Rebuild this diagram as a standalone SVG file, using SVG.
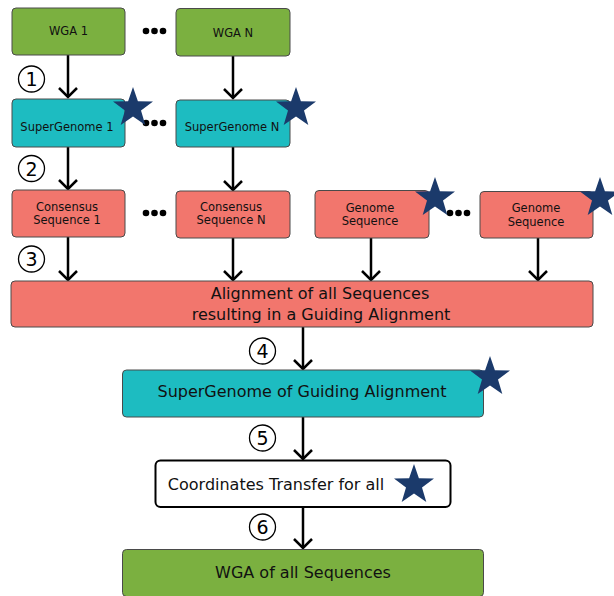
<svg xmlns="http://www.w3.org/2000/svg" width="614" height="596" viewBox="0 0 614 596">
<defs>
<style>
.box{stroke:#4a4a4a;stroke-width:1}
.g{fill:#7bb040}
.t{fill:#1dbcc1}
.r{fill:#f2766d}
.w{fill:#ffffff;stroke:#000;stroke-width:2}
.s{font-family:"DejaVu Sans","Noto Sans",sans-serif;font-size:11.5px;fill:#111;text-anchor:middle}
.m{font-family:"DejaVu Sans","Noto Sans",sans-serif;font-size:16px;fill:#111;text-anchor:middle}
.n{font-family:"DejaVu Sans","Noto Sans",sans-serif;font-size:19px;fill:#000;text-anchor:middle}
.nc{fill:none;stroke:#000;stroke-width:1.3}
.star{fill:#1b3a6b}
.conn line{stroke:#000;stroke-width:2.5}
.conn path{fill:none;stroke:#000;stroke-width:2.5}
.dot{fill:#000}
</style>
<path id="st" d="M0,-21 L4.9,-6.8 L20,-6.5 L8,2.6 L12.3,17 L0,8.5 L-12.3,17 L-8,2.6 L-20,-6.5 L-4.9,-6.8 Z"/>
</defs>
<rect width="614" height="596" fill="#fff"/>

<g class="conn">
<line x1="68" y1="55" x2="68" y2="97"/><path d="M59,88 L68,97 L77,88"/>
<line x1="233" y1="56" x2="233" y2="98"/><path d="M224,89 L233,98 L242,89"/>
<line x1="68" y1="147" x2="68" y2="189"/><path d="M59,180 L68,189 L77,180"/>
<line x1="233" y1="147" x2="233" y2="190"/><path d="M224,181 L233,190 L242,181"/>
<line x1="68" y1="237" x2="68" y2="280"/><path d="M59,271 L68,280 L77,271"/>
<line x1="233" y1="238" x2="233" y2="280"/><path d="M224,271 L233,280 L242,271"/>
<line x1="371" y1="238" x2="371" y2="280"/><path d="M362,271 L371,280 L380,271"/>
<line x1="538" y1="238" x2="538" y2="280"/><path d="M529,271 L538,280 L547,271"/>
<line x1="303" y1="327" x2="303" y2="369"/><path d="M294,360 L303,369 L312,360"/>
<line x1="303" y1="417" x2="303" y2="459"/><path d="M294,450 L303,459 L312,450"/>
<line x1="303" y1="507" x2="303" y2="548"/><path d="M294,539 L303,548 L312,539"/>
</g>

<g id="dots">
<circle class="dot" cx="146" cy="31" r="3.3"/><circle class="dot" cx="154.5" cy="31" r="3.3"/><circle class="dot" cx="163" cy="31" r="3.3"/>
<circle class="dot" cx="146" cy="123" r="3.3"/><circle class="dot" cx="154.5" cy="123" r="3.3"/><circle class="dot" cx="163" cy="123" r="3.3"/>
<circle class="dot" cx="146" cy="213" r="3.3"/><circle class="dot" cx="154.5" cy="213" r="3.3"/><circle class="dot" cx="163" cy="213" r="3.3"/>
<circle class="dot" cx="450" cy="213" r="3.3"/><circle class="dot" cx="458.5" cy="213" r="3.3"/><circle class="dot" cx="467" cy="213" r="3.3"/>
</g>

<g id="wga1"><rect class="box g" x="12" y="8" width="113" height="47" rx="4"/><text class="s" x="68.5" y="35">WGA 1</text></g>
<g id="wgaN"><rect class="box g" x="176" y="8.5" width="114" height="47.5" rx="4"/><text class="s" x="233" y="37">WGA N</text></g>

<g id="sg1"><rect class="box t" x="12" y="99" width="113" height="48" rx="4"/><text class="s" x="67" y="131">SuperGenome 1</text>
<use href="#st" class="star" x="133" y="108"/></g>
<g id="sgN"><rect class="box t" x="176" y="100" width="114" height="47" rx="4"/><text class="s" x="232" y="131">SuperGenome N</text>
<use href="#st" class="star" x="296" y="108"/></g>

<g id="cs1"><rect class="box r" x="12" y="190" width="113" height="47" rx="4"/><text class="s" x="67" y="211">Consensus</text><text class="s" x="67" y="224">Sequence 1</text></g>
<g id="csN"><rect class="box r" x="176" y="191" width="114" height="47" rx="4"/><text class="s" x="231" y="211">Consensus</text><text class="s" x="231" y="224">Sequence N</text></g>

<g id="gs1"><rect class="box r" x="315" y="190.5" width="114" height="47.5" rx="4"/><text class="s" x="370" y="212">Genome</text><text class="s" x="370" y="225">Sequence</text>
<use href="#st" class="star" x="435" y="198"/></g>
<g id="gsN"><rect class="box r" x="480" y="191.5" width="113" height="46.5" rx="4"/><text class="s" x="536" y="212">Genome</text><text class="s" x="536" y="226">Sequence</text>
<use href="#st" class="star" x="600" y="198"/></g>

<g id="align"><rect class="box r" x="11" y="281" width="582" height="46" rx="4"/>
<text class="m" x="320" y="299">Alignment of all Sequences</text>
<text class="m" x="321" y="320">resulting in a Guiding Alignment</text></g>

<g id="sgGuide"><rect class="box t" x="122.5" y="370" width="361" height="47" rx="4"/>
<text class="m" x="302" y="397">SuperGenome of Guiding Alignment</text>
<use href="#st" class="star" x="490" y="377"/></g>

<g id="coord"><rect class="w" x="155.5" y="460.5" width="295" height="46.5" rx="5"/>
<text class="m" x="276" y="490">Coordinates Transfer for all</text>
<use href="#st" class="star" x="414" y="485"/></g>

<g id="wgaAll"><rect class="box g" x="122.5" y="549.5" width="361" height="47" rx="4"/>
<text class="m" x="303" y="578">WGA of all Sequences</text></g>

<g id="steps">
<g><circle class="nc" cx="31.5" cy="79" r="13"/><text class="n" x="31.5" y="86">1</text></g>
<g><circle class="nc" cx="31.5" cy="168.5" r="13"/><text class="n" x="31.5" y="175.5">2</text></g>
<g><circle class="nc" cx="31.5" cy="259" r="13"/><text class="n" x="31.5" y="266">3</text></g>
<g><circle class="nc" cx="262.5" cy="351" r="13"/><text class="n" x="262.5" y="358">4</text></g>
<g><circle class="nc" cx="262.5" cy="438" r="13"/><text class="n" x="262.5" y="445">5</text></g>
<g><circle class="nc" cx="262.5" cy="527" r="13"/><text class="n" x="262.5" y="534">6</text></g>
</g>
</svg>
